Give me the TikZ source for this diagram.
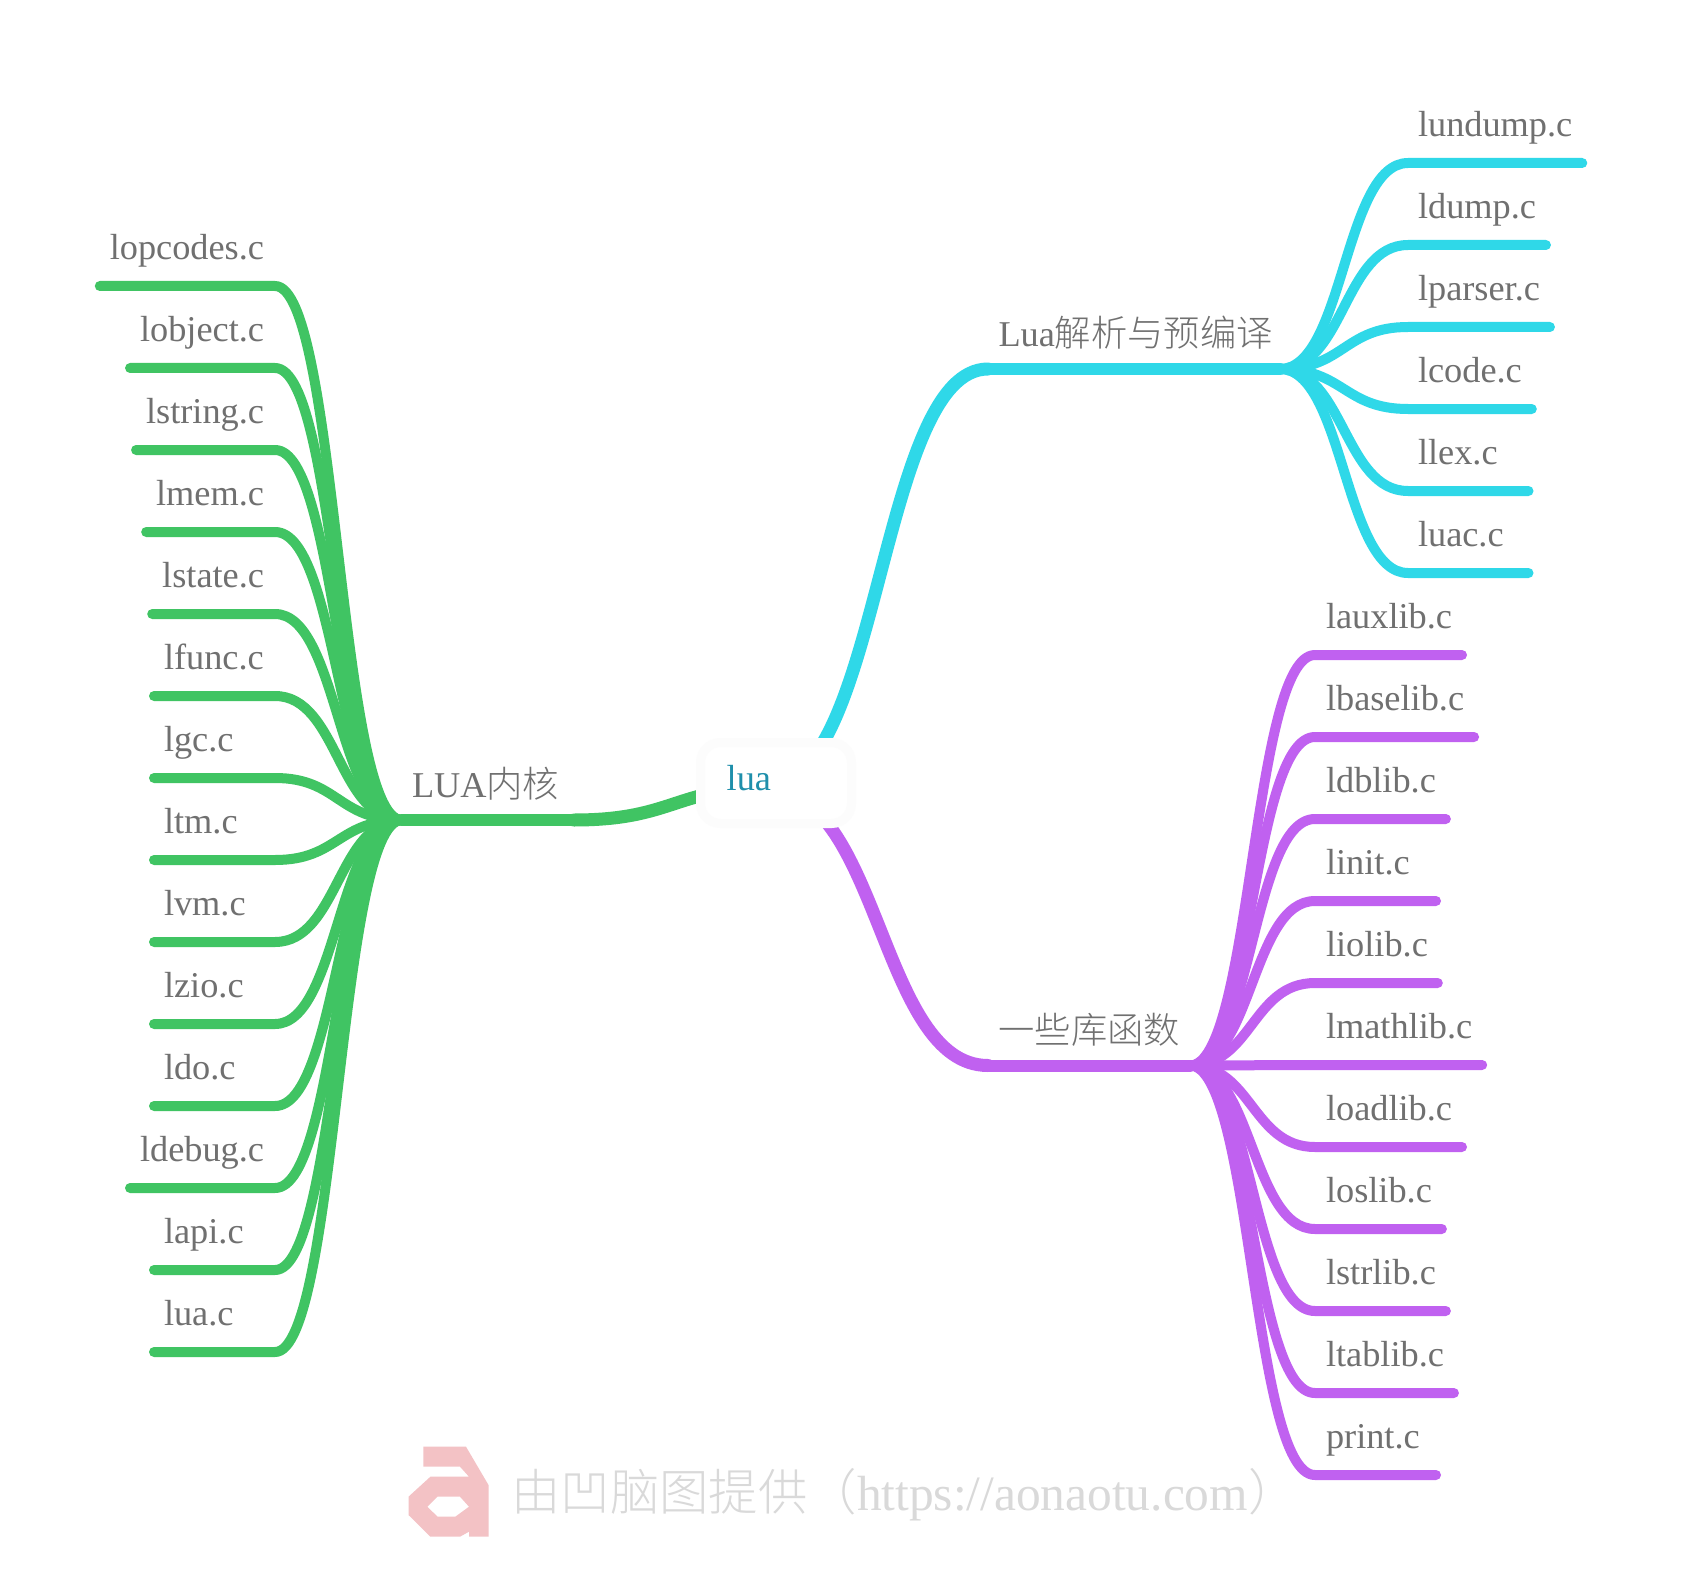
\documentclass[tikz,border=0pt]{standalone}
\usepackage{fontspec}
\usetikzlibrary{calc}
\setmainfont{Liberation Serif}
\newfontfamily\cjk{Noto Sans CJK SC Light}
\definecolor{cyanline}{HTML}{2FD8E8}
\definecolor{greenline}{HTML}{40C463}
\definecolor{purpleline}{HTML}{C061F0}
\definecolor{greytext}{HTML}{707070}
\definecolor{roottext}{HTML}{1F8FAB}
\definecolor{rootedge}{HTML}{FCFCFC}
\definecolor{logopink}{HTML}{F3C2C5}
\definecolor{marktext}{HTML}{D9D9D9}
\tikzset{
  x=1pt,y=-1pt,
  leaf/.style={line width=10pt,line cap=round,line join=round},
  mainline/.style={line width=12pt,line cap=round,line join=round},
  rootcurve/.style={line width=13pt,line cap=round,line join=round},
  label/.style={inner sep=0pt,outer sep=0pt,text=greytext,font=\fontsize{36.3}{36}\selectfont},
  rootbox/.style={rectangle,rounded corners=20pt,draw=rootedge,fill=white,line width=9pt,minimum width=151pt,minimum height=81pt,inner sep=0pt},
}
\begin{document}
\begin{tikzpicture}
\useasboundingbox (0,0) rectangle (1682,1570);
\fill[white] (0,0) rectangle (1682,1570);

\coordinate (rootc) at (776,783);
\coordinate (rootg) at (776,787);
\coordinate (rootk) at (770,783);
\coordinate (rootp) at (768,790);
\coordinate (ghub) at (402,820);
\coordinate (gmain) at (574,820);
\coordinate (chub) at (1280,369);
\coordinate (cmain) at (988,369);
\coordinate (phub) at (1190,1065.5);
\coordinate (pmain) at (988,1065.5);

% main branches
\draw[rootcurve,greenline] (rootg) .. controls (675,787) and (675,820) .. (gmain);
\draw[mainline,greenline] (gmain) -- (ghub);
\draw[rootcurve,cyanline] (rootk) .. controls (880,783) and (880,369) .. (cmain);
\draw[mainline,cyanline] (cmain) -- (chub);
\draw[rootcurve,purpleline] (rootp) .. controls (880,790) and (880,1065.5) .. (pmain);
\draw[mainline,purpleline] (pmain) -- (phub);

% left branch: labels of less than 100 wide start at 164, longer ones end at 264
\foreach \i/\t/\yy/\a/\xx in {1/lopcodes.c/286/east/264,2/lobject.c/368/east/264,3/lstring.c/450/east/264,4/lmem.c/532/east/264,5/lstate.c/614/east/264,6/lfunc.c/696/west/164,7/lgc.c/778/west/164,8/ltm.c/860/west/164,9/lvm.c/942/west/164,10/lzio.c/1024/west/164,11/ldo.c/1106/west/164,12/ldebug.c/1188/east/264,13/lapi.c/1270/west/164,14/lua.c/1352/west/164}{
  \node[label,anchor=base \a] (g\i) at (\xx,\yy-26.5) {\t};
  \coordinate (gend\i) at ([xshift=-10pt]g\i.west |- 0,\yy);
  \draw[leaf,greenline] (ghub) .. controls (338,820) and (338,\yy) .. (275,\yy) -- (gend\i);
}

% upper right branch
\node[label,anchor=base west] (clabel) at (998.5,347) {Lua{\cjk 解析与预编译}};
\foreach \i/\t/\yy in {1/lundump.c/163,2/ldump.c/245,3/lparser.c/327,4/lcode.c/409,5/llex.c/491,6/luac.c/573}{
  \node[label,anchor=base west] (c\i) at (1418,\yy-26.5) {\t};
  \path let \p1=(c\i.east) in ({max(\x1,1518.5pt)+10pt},\yy) coordinate (cend\i);
  \draw[leaf,cyanline] (chub) .. controls (1344,369) and (1344,\yy) .. (1408,\yy) -- (cend\i);
}

% lower right branch
\node[label,anchor=base west] (plabel) at (998.5,1043) {{\cjk 一些库函数}};
\foreach \i/\t/\yy in {1/lauxlib.c/655,2/lbaselib.c/737,3/ldblib.c/819,4/linit.c/901,5/liolib.c/983,6/lmathlib.c/1065,7/loadlib.c/1147,8/loslib.c/1229,9/lstrlib.c/1311,10/ltablib.c/1393,11/print.c/1475}{
  \node[label,anchor=base west] (p\i) at (1326,\yy-26.5) {\t};
  \path let \p1=(p\i.east) in ({max(\x1,1426pt)+10pt},\yy) coordinate (pend\i);
  \draw[leaf,purpleline] (phub) .. controls (1252,1065.5) and (1252,\yy) .. (1315,\yy) -- (pend\i);
}

\node[label,anchor=base west] (glabel) at (412,797) {LUA{\cjk 内核}};

% root
\node[rootbox] (root) at (rootc) {};
\node[inner sep=0pt,anchor=base west,text=roottext,font=\fontsize{36.3}{36}\selectfont] (rootlabel) at (726.5,790.5) {lua};

% watermark
\fill[logopink,even odd rule]
  (423.3,1446.7) -- (466,1446.7) -- (488.5,1485) -- (488.5,1536.7) -- (469,1536.7) -- (469,1531.7) -- (460,1536.7) -- (430.4,1536.7) -- (408.5,1515) -- (408.5,1496.7) -- (430.4,1476.7) -- (469,1476.7) -- (460,1466.7) -- (423.3,1466.7) -- cycle
  (437.5,1496.7) -- (460,1496.7) -- (469,1506.7) -- (455.3,1516.7) -- (437.5,1516.7) -- (427.4,1506.7) -- cycle;
\node[inner sep=0pt,anchor=base west,text=marktext,font=\fontsize{49.4}{50}\selectfont] (mark) at (511,1510) {{\cjk 由凹脑图提供（}https://aonaotu.com{\cjk ）}};
\end{tikzpicture}
\end{document}
